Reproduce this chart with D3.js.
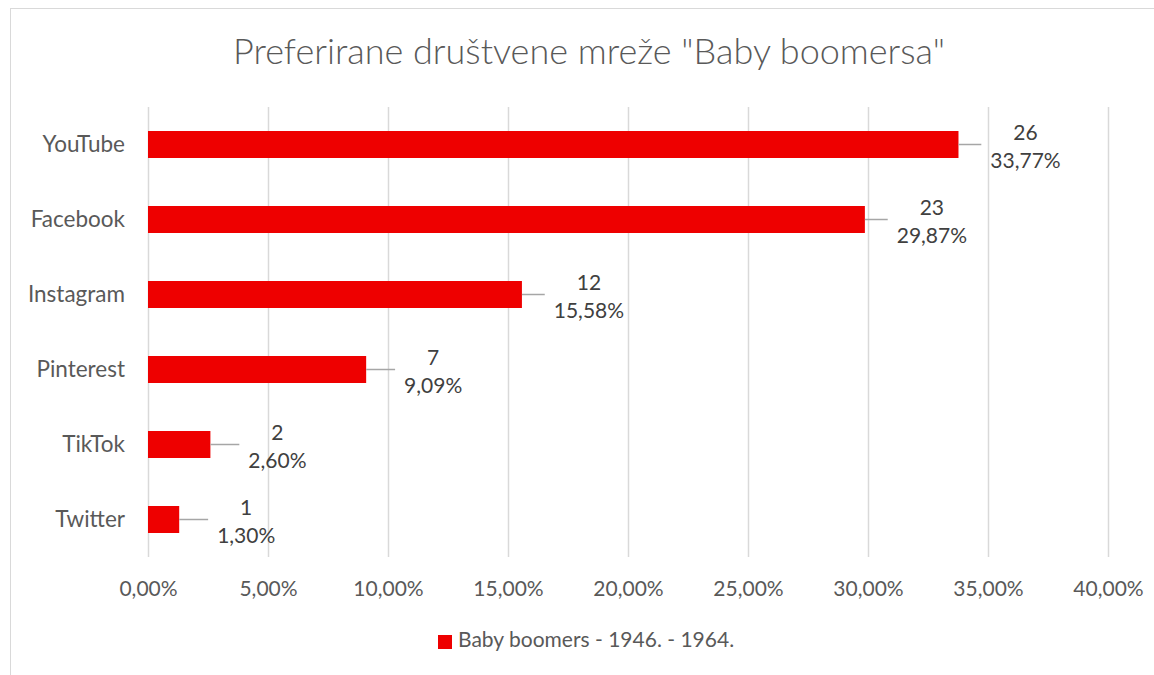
<!DOCTYPE html>
<html>
<head>
<meta charset="utf-8">
<script src="https://cdn.jsdelivr.net/npm/d3@7"></script>
<style>
  html, body { margin: 0; padding: 0; background: #fff; }
  svg text { font-family: Lato, "Open Sans", sans-serif; }
</style>
</head>
<body>
<div id="chart"></div>
<script>
// ===== Chart data =====
const title = 'Preferirane društvene mreže "Baby boomersa"';
const seriesName = 'Baby boomers - 1946. - 1964.';
const categories = ['YouTube', 'Facebook', 'Instagram', 'Pinterest', 'TikTok', 'Twitter'];
const counts = [26, 23, 12, 7, 2, 1];
const shares = [33.77, 29.87, 15.58, 9.09, 2.60, 1.30];
const xTicks = [0, 5, 10, 15, 20, 25, 30, 35, 40];

const width = 1154;
const height = 675;
const margin = { top: 107, right: 46, bottom: 118, left: 148 };
const innerW = width - margin.left - margin.right;
const innerH = height - margin.top - margin.bottom;
const fmt = v => v.toFixed(2).replace('.', ',') + '%';

const data = categories.map((name, i) => ({ name, count: counts[i], share: shares[i] }));

const svg = d3.select('#chart')
  .append('svg')
  .attr('width', width)
  .attr('height', height);

// outer chart frame
svg.append('rect')
  .attr('x', 10.5)
  .attr('y', 8.5)
  .attr('width', width)
  .attr('height', height)
  .attr('fill', 'none')
  .attr('stroke', '#d9d9d9');

svg.append('text')
  .attr('x', 589)
  .attr('y', 64)
  .attr('text-anchor', 'middle')
  .attr('font-size', 36)
  .attr('font-weight', 300)
  .attr('fill', '#595959')
  .text(title);

const g = svg.append('g')
  .attr('transform', `translate(${margin.left},${margin.top})`);

const x = d3.scaleLinear()
  .domain([0, 40])
  .range([0, innerW]);

const y = d3.scaleBand()
  .domain(categories)
  .range([0, innerH])
  .paddingInner(0.64)
  .paddingOuter(0.32);

// gridlines + tick labels
g.append('g')
  .attr('transform', `translate(0,${innerH})`)
  .call(d3.axisBottom(x)
    .tickValues(xTicks)
    .tickSize(innerH)
    .tickFormat(d => fmt(d)))
  .call(a => a.select('.domain').remove())
  .call(a => a.selectAll('.tick line')
    .attr('transform', `translate(0,${-innerH})`)
    .attr('stroke', '#d9d9d9')
    .attr('stroke-width', 1.5))
  .call(a => a.selectAll('.tick text')
    .attr('y', 24)
    .attr('fill', '#595959')
    .attr('font-size', 21)
    .attr('font-family', 'Lato, sans-serif'));

// category labels
g.append('g')
  .call(d3.axisLeft(y).tickSize(0).tickPadding(23))
  .call(a => a.select('.domain').remove())
  .call(a => a.selectAll('.tick text')
    .attr('fill', '#595959')
    .attr('font-size', 22.5)
    .attr('font-family', 'Lato, sans-serif'));

const bw = y.bandwidth();
const barColor = '#ee0000';

g.selectAll('.bar')
  .data(data)
  .enter()
  .append('rect')
  .attr('class', 'bar')
  .attr('x', 0)
  .attr('y', d => y(d.name))
  .attr('width', d => x(d.share))
  .attr('height', bw)
  .attr('fill', barColor);

// data labels with leader lines
const labelOffset = 67;
const labels = g.selectAll('.lbl')
  .data(data)
  .enter()
  .append('g')
  .attr('class', 'lbl')
  .attr('transform', d => `translate(${x(d.share) + labelOffset},${y(d.name) + bw / 2})`);

labels.append('text')
  .attr('text-anchor', 'middle')
  .attr('y', -4.5)
  .attr('fill', '#404040')
  .attr('font-size', 21)
  .text(d => d.count);

labels.append('text')
  .attr('class', 'pct')
  .attr('text-anchor', 'middle')
  .attr('y', 23.5)
  .attr('fill', '#404040')
  .attr('font-size', 21)
  .text(d => fmt(d.share));

// leader line stops a few px short of the label's left edge
labels.insert('line', 'text')
  .attr('x1', -labelOffset)
  .attr('x2', function () {
    const w = this.parentNode.querySelector('.pct').getComputedTextLength();
    return -w / 2 - 9;
  })
  .attr('y1', 0)
  .attr('y2', 0)
  .attr('stroke', '#a6a6a6')
  .attr('stroke-width', 1.5);

// legend
const legend = svg.append('g')
  .attr('transform', 'translate(438,635)');

legend.append('rect')
  .attr('width', 14)
  .attr('height', 14)
  .attr('fill', barColor);

legend.append('text')
  .attr('x', 20)
  .attr('y', 12)
  .attr('fill', '#595959')
  .attr('font-size', 21)
  .text(seriesName);
</script>
</body>
</html>
